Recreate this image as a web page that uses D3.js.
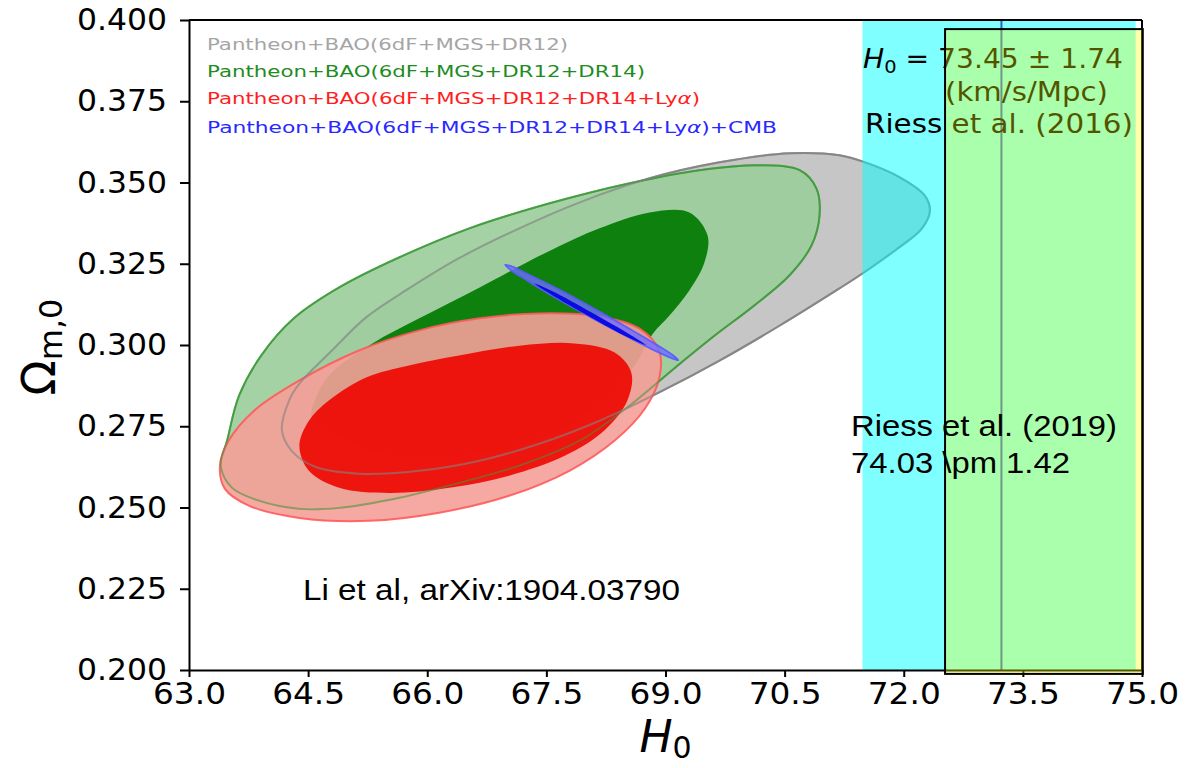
<!DOCTYPE html>
<html><head><meta charset="utf-8">
<script src="https://cdn.jsdelivr.net/npm/d3@7"></script>
<style>body{margin:0;background:#fff}svg{display:block}</style>
</head><body><svg id="chart" width="1196" height="768"></svg>
<script>
// ---------- DATA ----------
const xTicks = [63.0, 64.5, 66.0, 67.5, 69.0, 70.5, 72.0, 73.5, 75.0];
const yTicks = [0.200, 0.225, 0.250, 0.275, 0.300, 0.325, 0.350, 0.375, 0.400];
const legendLabels = [
  "Pantheon+BAO(6dF+MGS+DR12)",
  "Pantheon+BAO(6dF+MGS+DR12+DR14)",
  "Pantheon+BAO(6dF+MGS+DR12+DR14+Lyα)",
  "Pantheon+BAO(6dF+MGS+DR12+DR14+Lyα)+CMB"
];
// contour outlines [H0, Omega_m0]
const grayOuter = [[64.17,0.2737],[64.26,0.2829],[64.39,0.2881],[64.80,0.2983],[65.23,0.3085],[65.77,0.3174],[66.40,0.3267],[67.16,0.3359],[67.92,0.3439],[68.80,0.3513],[69.68,0.3562],[70.56,0.3590],[71.19,0.3584],[71.48,0.3565],[71.95,0.3516],[72.26,0.3461],[72.33,0.3414],[72.23,0.3359],[71.89,0.3291],[71.48,0.3220],[71.19,0.3174],[70.44,0.3060],[69.68,0.2952],[68.92,0.2854],[68.17,0.2767],[67.41,0.2696],[66.66,0.2644],[65.90,0.2613],[65.14,0.2604],[64.58,0.2626],[64.29,0.2675]];
const greenOuter = [[63.40,0.2629],[63.48,0.2706],[63.63,0.2844],[63.91,0.2968],[64.32,0.3082],[64.89,0.3177],[65.65,0.3270],[66.53,0.3359],[67.54,0.3436],[68.55,0.3498],[69.43,0.3538],[70.18,0.3553],[70.69,0.3538],[70.90,0.3482],[70.94,0.3399],[70.84,0.3307],[70.56,0.3214],[70.12,0.3122],[69.62,0.3029],[69.11,0.2928],[68.55,0.2814],[67.92,0.2706],[67.16,0.2629],[66.40,0.2576],[65.65,0.2530],[64.89,0.2499],[64.39,0.2496],[63.88,0.2521],[63.54,0.2561]];
const greenInner = [[64.55,0.2767],[64.64,0.2860],[64.83,0.2922],[65.31,0.3005],[65.90,0.3082],[66.66,0.3177],[67.50,0.3285],[68.17,0.3359],[68.80,0.3408],[69.30,0.3408],[69.53,0.3337],[69.49,0.3254],[69.30,0.3168],[69.05,0.3091],[68.84,0.3035],[68.61,0.2937],[68.23,0.2829],[67.66,0.2737],[66.91,0.2675],[66.15,0.2659],[65.39,0.2668],[64.95,0.2712]];
const redOuter = [[63.39,0.2629],[63.50,0.2706],[63.82,0.2798],[64.39,0.2891],[65.14,0.2983],[65.90,0.3045],[66.66,0.3082],[67.41,0.3097],[68.17,0.3088],[68.67,0.3051],[68.92,0.2983],[68.92,0.2897],[68.74,0.2804],[68.36,0.2706],[67.79,0.2613],[67.03,0.2536],[66.15,0.2484],[65.27,0.2459],[64.39,0.2468],[63.76,0.2505],[63.45,0.2558]];
const redInner = [[64.39,0.2690],[64.51,0.2767],[64.76,0.2829],[65.23,0.2900],[65.77,0.2937],[66.40,0.2968],[67.16,0.2998],[67.85,0.3005],[68.36,0.2977],[68.57,0.2915],[68.52,0.2829],[68.23,0.2737],[67.73,0.2659],[67.03,0.2598],[66.28,0.2561],[65.52,0.2545],[64.89,0.2561],[64.51,0.2613]];
const blueOuter = [[69.16,0.2953],[69.07,0.2960],[68.82,0.2988],[68.46,0.3033],[68.04,0.3088],[67.62,0.3145],[67.28,0.3195],[67.05,0.3231],[66.98,0.3247],[67.07,0.3241],[67.31,0.3213],[67.68,0.3168],[68.10,0.3112],[68.51,0.3055],[68.86,0.3005],[69.09,0.2969]];
const blueInner = [[68.76,0.2999],[68.54,0.3022],[68.04,0.3088],[67.55,0.3157],[67.35,0.3189],[67.57,0.3166],[68.07,0.3100],[68.56,0.3031]];
const riess2016Band = [71.48, 74.92];
const riess2016Center = 73.23;
const riess2019H = [72.52, 75.01];
const riess2019Om = [0.1988, 0.3972];
const riess2016Text = ["= 73.45 ± 1.74", "(km/s/Mpc)", "Riess et al. (2016)"];
const riess2019Text = ["Riess et al. (2019)", "74.03 \\pm 1.42"];
const creditText = "Li et al, arXiv:1904.03790";

// ---------- LAYOUT ----------
const L = 189, R = 1142, T = 20, B = 670;
const svg = d3.select("#chart");
const x = d3.scaleLinear().domain([63, 75]).range([L, R]);
const y = d3.scaleLinear().domain([0.2, 0.4]).range([B, T]);

svg.append("defs").append("clipPath").attr("id","clip")
  .append("rect").attr("x",L).attr("y",T).attr("width",R-L).attr("height",B-T);

const plot = svg.append("g").attr("clip-path","url(#clip)");
const line = d3.line().x(d=>x(d[0])).y(d=>y(d[1])).curve(d3.curveCatmullRomClosed.alpha(0.5));

function contour(data, fill, fop, stroke, sw, sop){
  plot.append("path").attr("d", line(data))
    .attr("fill", fill).attr("fill-opacity", fop)
    .attr("stroke", stroke||"none").attr("stroke-width", sw||0).attr("stroke-opacity", sop==null?1:sop);
}
contour(grayOuter, "rgb(198,198,198)", 1, "rgb(140,140,140)", 2, 1);
contour(greenOuter, "rgb(155,205,155)", 0.9, "rgb(60,160,60)", 2, 0.9);
contour(greenInner, "rgb(0,122,0)", 0.92, "none", 0);
contour(redOuter, "rgb(245,158,152)", 0.9, "rgb(255,90,90)", 2, 0.9);
contour(redInner, "rgb(238,5,0)", 0.9, "none", 0);
// outlines of underlying contours showing through
contour(greenOuter, "none", 0, "rgb(70,150,60)", 1.8, 0.55);
contour(grayOuter, "none", 0, "rgb(130,130,130)", 2, 0.6);
contour(blueOuter, "rgb(110,110,255)", 0.8, "rgb(90,90,255)", 1.8, 0.9);
contour(blueInner, "rgb(0,0,225)", 0.9, "none", 0);

// Riess 2016 band
plot.append("rect").attr("x", x(riess2016Band[0])).attr("y", y(0.4))
  .attr("width", x(riess2016Band[1]) - x(riess2016Band[0])).attr("height", y(0.2) - y(0.4))
  .attr("fill", "rgb(0,255,255)").attr("fill-opacity", 0.5);
plot.append("line").attr("x1", x(riess2016Center)).attr("x2", x(riess2016Center))
  .attr("y1", y(0.4)).attr("y2", y(0.2)).attr("stroke", "rgb(40,100,200)").attr("stroke-width", 2);

// axes
const fam = "'DejaVu Sans', sans-serif";
const xAxis = svg.append("g").attr("transform", `translate(0,${B})`)
  .call(d3.axisBottom(x).tickValues(xTicks).tickFormat(d3.format(".1f")).tickSize(7).tickPadding(6).tickSizeOuter(0));
const yAxis = svg.append("g").attr("transform", `translate(${L},0)`)
  .call(d3.axisLeft(y).tickValues(yTicks).tickFormat(d3.format(".3f")).tickSize(9).tickPadding(13).tickSizeOuter(0));
[xAxis, yAxis].forEach(a => {
  a.select(".domain").attr("stroke", "#000").attr("stroke-width", 2);
  a.selectAll(".tick line").attr("stroke", "#000").attr("stroke-width", 2);
  a.selectAll(".tick text").attr("fill", "#000").style("font-family", fam).style("font-size", "30px");
});
xAxis.selectAll(".tick text").attr("textLength", 73).attr("lengthAdjust", "spacingAndGlyphs");
yAxis.selectAll(".tick text").attr("textLength", 90).attr("lengthAdjust", "spacingAndGlyphs");
svg.append("line").attr("x1", L).attr("x2", R).attr("y1", T).attr("y2", T).attr("stroke", "#000").attr("stroke-width", 2);
svg.append("line").attr("x1", R).attr("x2", R).attr("y1", T).attr("y2", B).attr("stroke", "#000").attr("stroke-width", 2);

// axis titles
const xt = svg.append("text").attr("x", (L+R)/2).attr("y", 752).attr("text-anchor", "middle")
  .style("font-family", fam).style("font-size", "44px");
xt.append("tspan").style("font-style", "italic").text("H");
xt.append("tspan").attr("dy", 6).style("font-size", "30px").text("0");
const yt = svg.append("text").attr("transform", "translate(55,347) rotate(-90)").attr("text-anchor", "middle")
  .style("font-family", fam).style("font-size", "46px");
yt.append("tspan").text("Ω");
yt.append("tspan").attr("dy", 7).style("font-size", "32px").text("m,0");

// legend
const legColors = ["rgb(165,165,165)", "rgb(30,140,30)", "rgb(255,30,30)", "rgb(40,40,255)"];
const legBase = [50, 77, 104, 133];
const legLen = [361, 438, 493, 570];
legendLabels.forEach((lab, i) => {
  const t = svg.append("text").attr("x", 207).attr("y", legBase[i]).attr("fill", legColors[i])
    .style("font-family", fam).style("font-size", "16px")
    .attr("textLength", legLen[i]).attr("lengthAdjust", "spacingAndGlyphs");
  const parts = lab.split("α");
  parts.forEach((p, j) => {
    t.append("tspan").text(p);
    if (j < parts.length - 1) t.append("tspan").style("font-style", "italic").text("α");
  });
});

// Riess 2016 text
const r1 = svg.append("text").attr("x", 863).attr("y", 68).style("font-family", fam).style("font-size", "26px")
  .attr("textLength", 260).attr("lengthAdjust", "spacingAndGlyphs");
r1.append("tspan").style("font-style", "italic").text("H");
r1.append("tspan").attr("dy", 5).style("font-size", "18px").text("0");
r1.append("tspan").attr("dy", -5).text(" " + riess2016Text[0]);
svg.append("text").attr("x", 945).attr("y", 101).style("font-family", fam).style("font-size", "26px")
  .attr("textLength", 163).attr("lengthAdjust", "spacingAndGlyphs").text(riess2016Text[1]);
svg.append("text").attr("x", 865).attr("y", 133).style("font-family", fam).style("font-size", "26px")
  .attr("textLength", 268).attr("lengthAdjust", "spacingAndGlyphs").text(riess2016Text[2]);

// Riess 2019 overlay box
svg.append("rect").attr("x", x(riess2019H[0])).attr("y", y(riess2019Om[1]))
  .attr("width", x(riess2019H[1]) - x(riess2019H[0])).attr("height", y(riess2019Om[0]) - y(riess2019Om[1]))
  .attr("fill", "rgb(255,255,0)").attr("fill-opacity", 0.33).attr("stroke", "#000").attr("stroke-width", 2);

// annotations
const arial = "'Liberation Sans', Arial, sans-serif";
svg.append("text").attr("x", 851).attr("y", 436).style("font-family", arial).style("font-size", "29px")
  .attr("textLength", 266).attr("lengthAdjust", "spacingAndGlyphs").text(riess2019Text[0]);
svg.append("text").attr("x", 851).attr("y", 473).style("font-family", arial).style("font-size", "29px")
  .attr("textLength", 219).attr("lengthAdjust", "spacingAndGlyphs").text(riess2019Text[1]);
svg.append("text").attr("x", 303).attr("y", 600).style("font-family", arial).style("font-size", "29px")
  .attr("textLength", 377).attr("lengthAdjust", "spacingAndGlyphs").text(creditText);
</script></body></html>
